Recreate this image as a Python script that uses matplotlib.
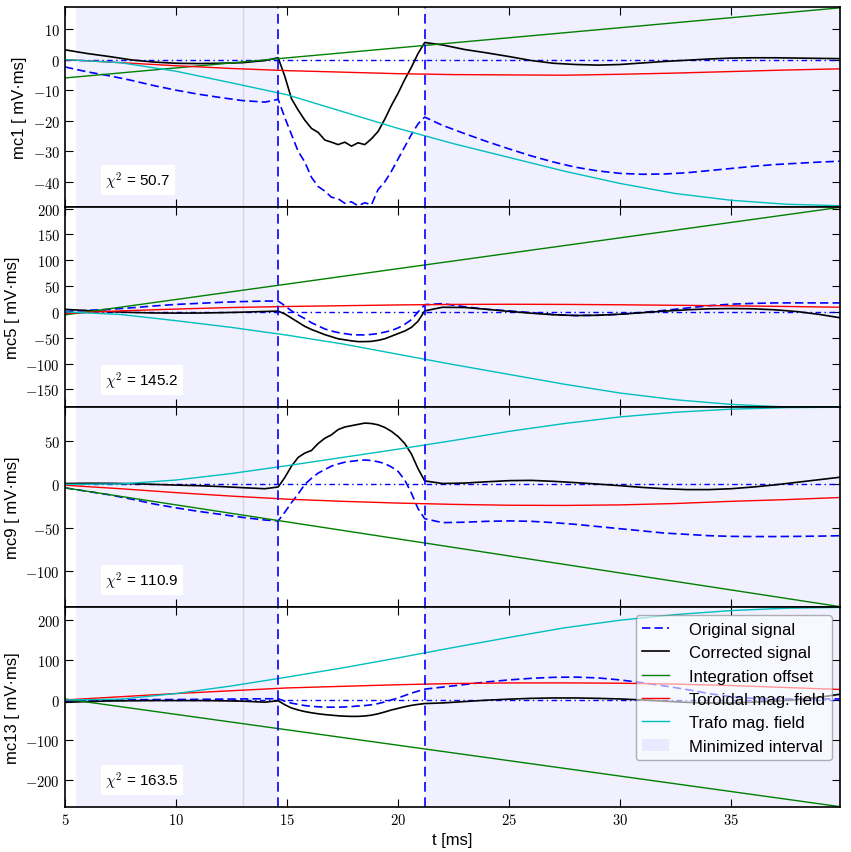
import numpy as np
import matplotlib
matplotlib.use('Agg')
import matplotlib.pyplot as plt
from matplotlib.ticker import FuncFormatter, MultipleLocator

plt.rcParams['font.family'] = ['Liberation Sans', 'DejaVu Sans']
plt.rcParams['mathtext.fontset'] = 'cm'
plt.rcParams['lines.scale_dashes'] = False

# --- data ------------------------------------------------------------------
channels = ['mc1', 'mc5', 'mc9', 'mc13']
chi2 = [50.7, 145.2, 110.9, 163.5]
ylims = [(-48.2, 17.2), (-184, 203), (-141, 89), (-267, 232)]

# plasma window and minimized intervals
t_start, t_end = 14.6, 21.2
fit_left = (5.5, 14.6)
fit_right = (21.2, 40.0)
t_mark = 13.0

# measured signals
t_sig = [5, 6, 7, 8, 9, 10, 11, 12, 13, 14, 14.6,
         14.9, 15.2, 15.5, 15.8, 16.1, 16.4, 16.7, 17.0, 17.3, 17.6, 17.9,
         18.2, 18.5, 18.8, 19.1, 19.4, 19.7, 20.0, 20.3, 20.6, 20.9, 21.2,
         22, 23, 24, 25, 26, 27, 28, 29, 30, 31, 32, 33, 34, 35, 36, 37, 38, 39, 40]

orig_mc1 = [-2.4, -4.0, -5.3, -6.8, -8.5, -10.0, -11.3, -12.4, -13.4, -13.9, -13.0,
            -19.0, -24.5, -30.0, -33.5, -38.5, -41.5, -43.0, -45.0, -45.5, -47.0, -46.5,
            -47.8, -46.8, -47.5, -42.5, -40.0, -36.5, -32.5, -28.5, -24.5, -21.0, -18.8,
            -21.5, -24.2, -26.8, -29.2, -31.5, -33.5, -35.2, -36.4, -37.2, -37.5, -37.4,
            -37.0, -36.3, -35.6, -34.9, -34.3, -33.9, -33.5, -33.2]
corr_mc1 = [3.2, 2.0, 1.0, -0.1, -0.8, -1.2, -1.3, -1.2, -1.0, -0.3, 0.6,
            -5.5, -12.8, -16.5, -19.8, -22.5, -23.8, -26.3, -27.0, -27.8, -27.0, -28.3,
            -27.2, -27.8, -25.9, -23.5, -19.5, -15.0, -11.0, -6.5, -2.5, 2.0, 5.6,
            4.8, 3.3, 2.2, 1.0, -0.3, -1.2, -1.6, -1.8, -1.6, -1.1, -0.6,
            -0.2, 0.2, 0.5, 0.6, 0.6, 0.5, 0.4, 0.3]

orig_mc5 = [0.8, 3, 5, 8, 11.5, 14.5, 16.5, 18.5, 20, 21, 21,
            12, 2, -6, -13, -21, -27, -33, -37, -40, -42, -44,
            -44.5, -44.5, -43.5, -42, -39, -36, -31, -24, -15, 0, 14,
            16, 10, 5, 2, -1.5, -5, -7, -6.5, -4.5, -1, 3,
            7.5, 12, 15, 16.5, 17.4, 17.5, 17.4, 17.4]
corr_mc5 = [5, 2.5, 0.5, -1.0, -2.0, -2.3, -2.2, -1.5, -0.5, 0.8, 1.5,
            -4, -12, -20, -28, -34, -39, -44, -48, -52, -54, -56,
            -57.5, -57.5, -57, -55, -52, -47, -42, -37, -30, -18, 2,
            9, 8.5, 5, 1, -2.5, -5.5, -7, -6.5, -4.5, -1.5, 1.5,
            4, 6, 6.5, 6, 4, 0.5, -5, -12]

orig_mc9 = [-4, -8, -12, -17, -22.5, -27, -31, -34.5, -38, -41, -42,
            -32, -21, -11, 0, 7, 13, 17, 21, 23.5, 25.5, 26.5,
            27.5, 28, 27.5, 26, 24, 20, 15, 5, -10, -28, -39.5,
            -44, -43.5, -42.5, -42, -42.5, -44, -46, -48.5, -51, -53.5, -56,
            -57.5, -59, -59.8, -60, -60, -59.8, -59.5, -59]
corr_mc9 = [1, 1.3, 1.2, 0.8, 0, -0.8, -1.5, -2.5, -3.8, -5.0, -3,
            8, 21, 31, 36, 39, 47, 53, 57, 63, 66, 67.5,
            69, 70.5, 70, 68.5, 65.5, 61, 55, 47, 35, 18, 4,
            1, 1.5, 3, 4.3, 4.6, 3.5, 2, 0.3, -1.5, -3.5, -5,
            -6, -6, -5, -3, -0.5, 2.5, 5.5, 8.5]

orig_mc13 = [-3, -1, 0, 0.5, 1, 1, 1.5, 2, 2.5, 3, 3,
             -3, -8, -11, -14, -16, -17, -18, -18, -18, -17.5, -16.5,
             -15, -14, -12, -9, -5, 0, 5, 11, 17, 22, 27,
             32, 38.5, 45, 50, 54, 56.5, 57, 55, 50, 43, 35,
             26, 16, 8, 4, 2.5, 2.5, 2.5, 2.5]
corr_mc13 = [-6, -4, -2.5, -2, -1.5, -1.5, -1.5, -2, -3, -5.5, -2,
             -12, -20, -25, -29, -32, -34.5, -36.5, -38, -39.5, -40.5, -41,
             -41, -40, -38, -34.5, -30, -25, -21, -17, -13.5, -11, -9,
             -7.5, -4, -0.5, 2, 4, 5, 5, 4, 2.5, 0, -3,
             -6, -7.5, -7, -5.5, -3, 1, 7, 15]

# integration offset (straight line, end points)
t_offset = [5, 40]
offset_mc1 = [-6.0, 17.0]
offset_mc5 = [-5.8, 203.0]
offset_mc9 = [-4.0, -141.0]
offset_mc13 = [2.5, -267.0]

# toroidal and transformer field contributions
t_field = [5, 7.5, 10, 12.5, 15, 17.5, 20, 22.5, 25, 27.5, 30, 32.5, 35, 37.5, 40]
tor_mc1 = [0, -1.0, -2.0, -2.9, -3.6, -4.1, -4.6, -4.9, -5.0, -5.1, -4.8, -4.4, -3.9, -3.4, -3.0]
tor_mc5 = [-3, 2, 5.5, 8.5, 10.5, 12, 13.5, 14.5, 14.8, 14.5, 13.8, 12.8, 11.8, 10.5, 9]
tor_mc9 = [-1, -5, -9.5, -13.5, -17, -19.5, -21.5, -23, -24, -24.2, -23.6, -22, -19.5, -17.5, -15]
tor_mc13 = [0, 8, 16, 23, 30, 34, 38, 41, 42.5, 42.6, 41.8, 39.5, 36, 31, 26]

trafo_mc1 = [0, -1.0, -3.8, -7.6, -11.5, -17.0, -22.5, -27.5, -32, -36.5, -40.5, -43.8, -46.0, -47.3, -47.8]
trafo_mc5 = [0, -5, -17, -30, -45, -62, -82, -102, -121, -140, -157, -170, -179, -184, -185]
trafo_mc9 = [0, 0.5, 5, 12.5, 21.5, 31, 40.5, 50.5, 61, 70, 77.6, 83, 86.5, 88.3, 88.8]
trafo_mc13 = [0, 2, 16, 35, 57, 80, 105, 131, 156, 180, 199, 213, 223, 229, 231]

orig = [orig_mc1, orig_mc5, orig_mc9, orig_mc13]
corr = [corr_mc1, corr_mc5, corr_mc9, corr_mc13]
offset = [offset_mc1, offset_mc5, offset_mc9, offset_mc13]
tor = [tor_mc1, tor_mc5, tor_mc9, tor_mc13]
trafo = [trafo_mc1, trafo_mc5, trafo_mc9, trafo_mc13]

# --- plot -------------------------------------------------------------------
fig, axes = plt.subplots(4, 1, sharex=True, figsize=(8.51, 8.53), dpi=100)
fig.subplots_adjust(left=0.0764, right=0.987, bottom=0.0528, top=0.9906, hspace=0)

tick_fmt = FuncFormatter(lambda v, p: r'$%g$' % v)

for i, ax in enumerate(axes):
    ax.axvspan(*fit_left, color='b', alpha=0.06, lw=0, label='Minimized interval')
    ax.axvspan(*fit_right, color='b', alpha=0.06, lw=0)
    ax.axvline(t_mark, color='#d6d6e2', lw=1)
    ax.axhline(0, color='b', lw=1, dashes=(4, 2.5, 1, 2.5))
    ax.plot(t_sig, orig[i], color='b', lw=1.2, dashes=(6, 3), label='Original signal')
    ax.plot(t_sig, corr[i], color='k', lw=1.2, label='Corrected signal')
    ax.plot(t_offset, offset[i], color='g', lw=1, label='Integration offset')
    ax.plot(t_field, tor[i], color='r', lw=1, label='Toroidal mag. field')
    ax.plot(t_field, trafo[i], color='c', lw=1, label='Trafo mag. field')
    ax.axvline(t_start, color='b', lw=1.2, dashes=(7, 4))
    ax.axvline(t_end, color='b', lw=1.2, dashes=(7, 4))

    ax.set_ylim(*ylims[i])
    ax.set_ylabel(channels[i] + ' [ mV\u00b7ms]', fontsize=12)
    ax.yaxis.set_major_formatter(tick_fmt)
    ax.tick_params(direction='in', top=True, right=True, length=6, labelsize=10.5)
    for s in ax.spines.values():
        s.set_linewidth(1.2)
    ax.text(0.052, 0.135, r'$\chi^2$ = %.1f' % chi2[i], transform=ax.transAxes,
            fontsize=11, va='center', ha='left',
            bbox=dict(facecolor='white', edgecolor='none', pad=3))

axes[0].yaxis.set_major_locator(MultipleLocator(10))
axes[1].yaxis.set_major_locator(MultipleLocator(50))
axes[2].yaxis.set_major_locator(MultipleLocator(50))
axes[3].yaxis.set_major_locator(MultipleLocator(100))

ax = axes[-1]
ax.set_xlim(5, 39.9)
ax.xaxis.set_major_locator(MultipleLocator(5))
ax.xaxis.set_major_formatter(tick_fmt)
ax.set_xlabel('t [ms]', fontsize=12)

handles, labels = ax.get_legend_handles_labels()
order = ['Original signal', 'Corrected signal', 'Integration offset',
         'Toroidal mag. field', 'Trafo mag. field', 'Minimized interval']
hl = dict(zip(labels, handles))
leg = ax.legend([hl[k] for k in order], order, loc='upper right', fontsize=12,
                fancybox=True, framealpha=0.6, edgecolor='gray',
                handlelength=1.6, labelspacing=0.5, handletextpad=1.2)

fig.savefig('out.png', dpi=100)
